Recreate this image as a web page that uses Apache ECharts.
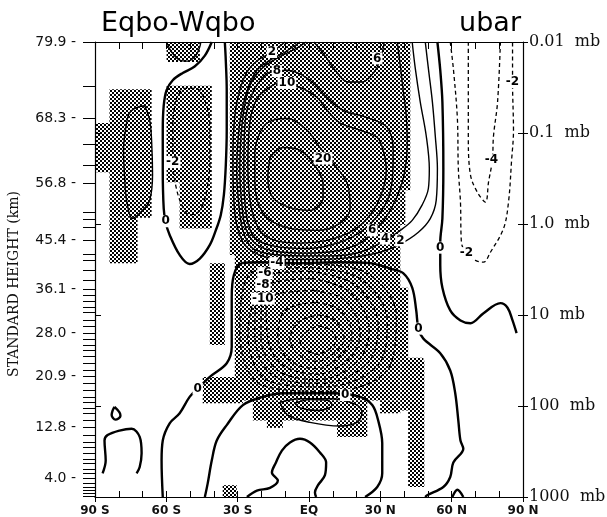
<!DOCTYPE html>
<html>
<head>
<meta charset="utf-8">
<script src="https://cdn.jsdelivr.net/npm/echarts@6/dist/echarts.min.js"></script>
<style>
  html, body { margin: 0; padding: 0; background: #fff; }
  #chart { width: 607px; height: 517px; }
</style>
</head>
<body>
<div id="chart"></div>
<script>
// Every contour is a list of [latitude (deg, south negative), log10(pressure / mb)] points.

// ---- axis ticks ----
const latTicks = [-90, -60, -30, 0, 30, 60, 90];
const latTickLabels = ['90 S', '60 S', '30 S', 'EQ', '30 N', '60 N', '90 N'];
const heightTickLevels = [-2.0, -1.16, -0.45, 0.18, 0.72, 1.20, 1.67, 2.23, 2.79];
const heightTickLabels = ['79.9', '68.3', '56.8', '45.4', '36.1', '28.0', '20.9', '12.8', '4.0'];
const modelLevels = [-2.0, -1.51, -1.16, -0.88, -0.65, -0.45, -0.13, -0.05, 0.04, 0.18, 0.33, 0.40, 0.51,
  0.62, 0.72, 0.78, 0.85, 0.91, 0.97, 1.06, 1.12, 1.20, 1.27, 1.33, 1.39, 1.45, 1.53, 1.61, 1.67, 1.75,
  1.83, 1.90, 1.96, 2.03, 2.08, 2.16, 2.23, 2.32, 2.40, 2.45, 2.52, 2.58, 2.63, 2.69, 2.74, 2.79, 2.85,
  2.89, 2.93, 2.96, 2.99];
const pressureTickLevels = [-2, -1, 0, 1, 2, 3];
const pressureTickLabels = ['0.01  mb', '0.1  mb', '1.0  mb', '10  mb', '100  mb', '1000  mb'];

// ---- zero contours (bold) ----
const zeroSouthTongue = [[-40.9,-2.0],[-43.8,-1.85],[-48.1,-1.73],[-53.1,-1.66],[-57.3,-1.58],[-59.9,-1.47],
  [-61.1,-1.30],[-61.5,-1.03],[-61.5,-0.59],[-61.1,-0.17],[-60.3,-0.02],[-58.6,0.12],[-54.4,0.34],
  [-50.2,0.44],[-45.9,0.38],[-41.7,0.23],[-39.2,0.07],[-37.1,-0.10],[-35.8,-0.32],[-35.0,-0.64],
  [-34.6,-1.03],[-34.6,-1.47],[-35.0,-1.80],[-35.4,-2.0]];
const zeroNorthUpper = [[54.0,-2.0],[55.2,-1.69],[56.1,-1.34],[56.5,-0.61],[56.1,-0.06],[55.2,0.20],
  [55.2,0.45],[56.1,0.70],[59.4,0.95],[63.7,1.06],[67.9,1.09],[73.4,0.98],[80.5,0.87],[83.5,0.92],
  [85.6,1.06],[87.3,1.20]];
const zeroWesterlyShell = [[-61.5,3.0],[-62.0,2.60],[-61.5,2.38],[-58.6,2.19],[-54.4,2.08],[-50.2,1.90],
  [-46.8,1.81],[-41.7,1.68],[-34.6,1.53],[-32.5,1.35],[-32.5,0.81],[-31.6,0.56],[-28.2,0.43],
  [-20.7,0.42],[-3.8,0.43],[13.1,0.42],[25.7,0.43],[34.1,0.49],[39.6,0.54],[43.4,0.70],[45.1,0.95],
  [46.0,1.15],[48.1,1.26],[55.2,1.42],[59.4,1.61],[61.5,1.86],[62.8,2.16],[63.7,2.38],[64.9,2.47],
  [60.7,2.62],[59.4,2.78],[56.5,2.89],[49.7,2.98],[48.9,3.0]];
const zeroLowerArch = [[-43.8,3.0],[-42.6,2.85],[-40.9,2.60],[-38.8,2.38],[-34.6,2.21],[-27.8,1.99],
  [-19.4,1.90],[-11.0,1.86],[10.1,1.86],[21.5,1.90],[26.6,1.99],[29.1,2.16],[30.8,2.41],[30.8,2.74],
  [28.7,2.89],[23.6,3.0]];
const zeroSurfaceCell = [[-26.1,3.0],[-21.9,2.93],[-16.4,2.90],[-13.1,2.82],[-15.6,2.73],[-13.9,2.62],
  [-11.4,2.49],[-8.0,2.40],[-3.8,2.36],[0.4,2.40],[4.6,2.51],[7.2,2.62],[6.7,2.76],[3.8,2.87],
  [2.5,2.95],[3.0,3.0]];
const zeroPolarDrop = [[-81.8,2.01],[-79.7,2.07],[-79.3,2.11],[-81.4,2.15],[-83.0,2.10],[-82.6,2.05],[-81.8,2.01]];
const zeroPolarArch = [[-86.8,2.74],[-85.5,2.60],[-86.0,2.38],[-84.7,2.32],[-79.7,2.27],[-74.6,2.25],
  [-71.2,2.34],[-70.4,2.52],[-71.2,2.67],[-72.5,2.74]];
const zeroArcticBump = [[60.3,3.0],[62.4,2.92],[64.9,3.0]];

// ---- positive contours ----
const posSouthLoop = [[-69.1,-1.30],[-67.0,-1.14],[-66.2,-0.92],[-65.8,-0.54],[-67.0,-0.26],[-70.0,-0.15],
  [-74.2,-0.06],[-76.7,-0.26],[-77.6,-0.54],[-78.0,-0.81],[-77.1,-1.05],[-75.5,-1.22],[-72.5,-1.28],[-69.1,-1.30]];
const pos2 = [[-10.1,-2.0],[-15.6,-1.89],[-21.5,-1.80],[-26.1,-1.67],[-29.1,-1.47],[-31.2,-1.19],
  [-32.0,-0.70],[-31.6,-0.26],[-30.4,0.01],[-27.0,0.23],[-19.8,0.35],[-8.0,0.39],[4.6,0.39],[17.3,0.37],
  [29.9,0.31],[38.4,0.22],[46.0,0.09],[51.0,-0.06],[53.5,-0.26],[54.0,-0.61],[53.1,-0.97],[51.9,-1.34],
  [50.2,-1.71],[48.9,-2.0]];
const pos4 = [[-3.8,-2.0],[-10.1,-1.89],[-16.4,-1.80],[-21.9,-1.69],[-25.3,-1.52],[-27.8,-1.30],
  [-29.5,-1.03],[-30.4,-0.59],[-29.5,-0.21],[-27.8,0.07],[-24.0,0.26],[-16.4,0.33],[-3.8,0.35],[8.9,0.35],
  [21.5,0.31],[32.0,0.18],[38.4,0.07],[43.4,-0.04],[47.6,-0.21],[50.2,-0.39],[50.6,-0.61],[49.3,-0.97],
  [46.8,-1.34],[44.7,-1.71],[43.4,-2.0]];
const pos6 = [[-1.3,-2.0],[-4.6,-1.94],[-12.2,-1.84],[-19.8,-1.71],[-24.9,-1.52],[-27.4,-1.25],
  [-28.7,-0.92],[-29.1,-0.59],[-28.2,-0.21],[-26.6,0.05],[-22.3,0.22],[-14.3,0.30],[-1.7,0.32],[11.0,0.30],
  [21.5,0.21],[26.6,0.09],[32.0,-0.06],[36.7,-0.28],[40.0,-0.54],[41.3,-0.86],[40.9,-1.19],[39.6,-1.47],
  [38.4,-1.74],[37.1,-2.0]];
const pos6Dip = [[2.1,-2.0],[6.7,-1.85],[11.0,-1.69],[16.4,-1.56],[22.3,-1.56],[27.4,-1.67],[29.9,-1.80],
  [31.2,-1.93],[31.6,-2.0]];
const pos8 = [[-17.7,-1.66],[-9.3,-1.69],[0.4,-1.58],[7.6,-1.39],[14.3,-1.25],[24.5,-1.17],[32.9,-1.06],
  [35.4,-0.81],[35.0,-0.48],[32.0,-0.21],[23.6,0.05],[13.1,0.20],[-0.8,0.27],[-15.2,0.24],[-23.2,0.14],
  [-26.6,-0.15],[-27.4,-0.59],[-27.0,-1.08],[-23.6,-1.45],[-17.7,-1.66]];
const pos10 = [[-13.5,-1.55],[-3.8,-1.50],[3.4,-1.39],[7.6,-1.25],[13.1,-1.11],[21.5,-1.03],[28.7,-0.95],
  [31.2,-0.81],[32.5,-0.59],[29.9,-0.29],[24.5,-0.06],[17.3,0.09],[7.6,0.18],[-3.8,0.21],[-14.3,0.18],
  [-20.7,0.07],[-24.5,-0.21],[-25.7,-0.64],[-24.9,-1.11],[-21.5,-1.39],[-13.5,-1.55]];
const pos20 = [[-21.9,-0.92],[-17.7,-1.11],[-9.3,-1.16],[-0.8,-1.03],[4.6,-0.84],[10.1,-0.67],[16.0,-0.45],
  [17.3,-0.18],[13.1,-0.01],[3.4,0.07],[-9.3,0.04],[-19.4,-0.12],[-22.8,-0.48],[-22.8,-0.78],[-21.9,-0.92]];
const pos30 = [[-16.4,-0.73],[-11.0,-0.84],[-3.8,-0.81],[1.7,-0.67],[5.9,-0.45],[5.9,-0.29],[0.4,-0.15],
  [-8.0,-0.18],[-15.2,-0.29],[-17.3,-0.51],[-16.4,-0.73]];
const posLowerOuter = [[-12.2,1.96],[-3.8,1.92],[8.9,1.92],[19.4,1.98],[22.3,2.07],[20.2,2.18],[13.1,2.22],
  [0.4,2.18],[-8.9,2.10],[-12.2,1.96]];
const posLowerInner = [[-5.9,1.97],[0.4,1.93],[8.0,1.94],[9.7,1.99],[3.8,2.05],[-3.8,2.02],[-5.9,1.97]];
const posSouthCap = [[-59.9,-2.0],[-57.8,-1.89],[-54.4,-1.80],[-51.0,-1.79],[-47.6,-1.85],[-45.9,-1.95],[-45.5,-2.0]];

// ---- negative contours (dashed) ----
const negSouthLoop = [[-56.1,-1.36],[-52.3,-1.49],[-47.6,-1.49],[-43.8,-1.36],[-41.7,-1.08],[-41.7,-0.70],
  [-43.0,-0.37],[-45.9,-0.15],[-50.2,-0.10],[-53.5,-0.21],[-56.1,-0.43],[-57.3,-0.70],[-57.3,-1.08],[-56.1,-1.36]];
const negNorth2 = [[59.4,-2.0],[60.7,-1.71],[62.4,-1.16],[62.8,-0.61],[63.7,-0.24],[64.1,0.20],[66.2,0.32],
  [70.0,0.40],[73.4,0.42],[76.3,0.31],[81.8,0.05],[83.9,-0.24],[85.2,-0.70],[86.0,-1.03],[85.6,-1.56],[85.6,-2.0]];
const negNorth4 = [[67.0,-2.0],[67.0,-1.52],[67.0,-0.97],[67.9,-0.54],[70.8,-0.35],[74.2,-0.24],[75.5,-0.46],
  [77.1,-0.70],[77.6,-0.97],[79.3,-1.34],[80.5,-2.0]];
const neg2 = [[0.4,0.44],[23.6,0.53],[36.7,1.00],[33.3,1.59],[8.9,1.84],[-19.8,1.77],[-29.1,1.22],[-24.0,0.53],[0.4,0.44]];
const neg4 = [[0.4,0.48],[21.5,0.60],[32.9,1.06],[29.1,1.55],[6.7,1.79],[-17.3,1.72],[-25.7,1.22],[-14.3,0.49],[0.4,0.48]];
const neg6 = [[0.4,0.52],[19.4,0.67],[29.1,1.11],[24.9,1.52],[5.5,1.75],[-15.2,1.66],[-22.8,1.22],[-18.5,0.57],[0.4,0.52]];
const neg8 = [[1.3,0.60],[17.3,0.75],[25.3,1.17],[20.7,1.50],[4.6,1.71],[-13.1,1.61],[-20.2,1.25],[-19.0,0.71],[1.3,0.60]];
const neg10 = [[2.1,0.73],[15.2,0.84],[21.5,1.20],[17.3,1.47],[3.8,1.65],[-11.0,1.55],[-17.3,1.26],[-18.1,0.84],[2.1,0.73]];
const neg12 = [[3.0,0.86],[13.1,0.95],[18.1,1.22],[13.9,1.43],[3.4,1.59],[-8.0,1.50],[-13.1,1.26],[-10.1,0.95],[3.0,0.86]];
const neg14 = [[3.8,1.00],[11.0,1.06],[14.8,1.26],[11.4,1.40],[3.4,1.51],[-4.6,1.43],[-8.0,1.27],[-4.6,1.08],[3.8,1.00]];
const neg16 = [[3.8,1.12],[8.9,1.16],[11.4,1.28],[8.9,1.37],[3.4,1.43],[-1.7,1.37],[-3.8,1.28],[-0.8,1.18],[3.8,1.12]];

// ---- stippled (significant) boxes: [lat1, lat2, logp1, logp2] ----
const stippleBoxes = [
  [-83.9,-66.2,-1.48,-0.07], [-90,-66.2,-1.11,-0.57], [-83.9,-72.1,-0.07,0.43],
  [-59.9,-40.9,-1.52,-0.46], [-54.4,-40.9,-0.46,0.05], [-59.9,-45.9,-2.0,-1.78],
  [-33.3,38.4,-2.0,0.34], [38.4,42.6,-2.0,-0.37], [38.4,40.5,-0.37,0.01],
  [-31.2,38.4,0.34,1.94], [-41.7,-35.4,0.43,1.33], [-44.7,-27.8,1.68,1.97],
  [-23.6,24.5,1.94,2.16], [-17.7,-11.0,2.08,2.24], [11.8,24.5,2.16,2.34],
  [29.9,38.4,1.94,2.08], [34.1,41.7,0.70,1.50], [38.4,48.1,1.47,2.05],
  [41.7,48.5,1.50,2.89], [-36.3,-30.4,2.87,3.0]
];

// ---- contour labels: [lat, logp, text] ----
const contourLabels = [
  [-60.3,-0.03,'0'], [-57.3,-0.68,'-2'], [-15.6,-1.89,'2'], [-13.5,-1.68,'8'], [-9.3,-1.55,'10'],
  [5.9,-0.72,'20'], [28.7,-1.82,'6'], [26.6,0.07,'6'], [32.0,0.16,'4'], [38.4,0.18,'2'],
  [55.2,0.26,'0'], [66.2,0.32,'-2'], [85.6,-1.56,'-2'], [76.7,-0.70,'-4'],
  [-13.5,0.43,'-4'], [-18.5,0.54,'-6'], [-19.4,0.67,'-8'], [-19.4,0.82,'-10'],
  [-46.8,1.81,'0'], [46.0,1.15,'0'], [15.2,1.88,'0']
];

// ---------------------------------------------------------------
const chart = echarts.init(document.getElementById('chart'), null, { renderer: 'canvas' });

// checkerboard halftone tile for the stippled areas
const dots = document.createElement('canvas');
dots.width = 4; dots.height = 4;
const dctx = dots.getContext('2d');
dctx.fillStyle = '#000';
dctx.fillRect(0, 0, 2, 2);
dctx.fillRect(2, 2, 2, 2);
const stippleFill = { image: dots, repeat: 'repeat' };

const zeroStyle = { color: '#000', width: 2.4, type: 'solid' };
const posStyle = { color: '#000', width: 1.4, type: 'solid' };
const negStyle = { color: '#000', width: 1.3, type: [4, 3] };

const contourSet = [
  [zeroSouthTongue, zeroStyle], [zeroNorthUpper, zeroStyle], [zeroWesterlyShell, zeroStyle],
  [zeroLowerArch, zeroStyle], [zeroSurfaceCell, zeroStyle], [zeroPolarDrop, zeroStyle],
  [zeroPolarArch, zeroStyle], [zeroArcticBump, zeroStyle],
  [posSouthLoop, posStyle], [pos2, posStyle], [pos4, posStyle], [pos6, posStyle], [pos6Dip, posStyle],
  [pos8, posStyle], [pos10, posStyle], [pos20, posStyle], [pos30, posStyle],
  [posLowerOuter, posStyle], [posLowerInner, posStyle], [posSouthCap, posStyle],
  [negSouthLoop, negStyle], [negNorth2, negStyle], [negNorth4, negStyle],
  [neg2, negStyle], [neg4, negStyle], [neg6, negStyle], [neg8, negStyle],
  [neg10, negStyle], [neg12, negStyle], [neg14, negStyle], [neg16, negStyle]
];

const lineSeries = contourSet.map(([pts, style]) => ({
  type: 'line',
  xAxisIndex: 0, yAxisIndex: 0,
  data: pts,
  showSymbol: false, symbol: 'none',
  smooth: 0.35,
  lineStyle: style,
  silent: true, z: 3, animation: false
}));

const stippleSeries = {
  type: 'custom',
  xAxisIndex: 0, yAxisIndex: 0,
  data: stippleBoxes,
  encode: { x: [0, 1], y: [2, 3] },
  clip: true, silent: true, z: 1, animation: false,
  renderItem: (params, api) => {
    const a = api.coord([api.value(0), api.value(2)]);
    const b = api.coord([api.value(1), api.value(3)]);
    return {
      type: 'rect',
      shape: { x: Math.min(a[0], b[0]), y: Math.min(a[1], b[1]),
               width: Math.abs(b[0] - a[0]), height: Math.abs(b[1] - a[1]) },
      style: { fill: stippleFill }
    };
  }
};

const labelSeries = {
  type: 'custom',
  xAxisIndex: 0, yAxisIndex: 0,
  data: contourLabels.map(d => [d[0], d[1]]),
  silent: true, z: 5, animation: false,
  renderItem: (params, api) => {
    const p = api.coord([api.value(0), api.value(1)]);
    return {
      type: 'text',
      x: p[0], y: p[1],
      style: {
        text: contourLabels[params.dataIndex][2],
        font: 'bold 12px "DejaVu Sans"',
        fill: '#000',
        align: 'center', verticalAlign: 'middle',
        backgroundColor: '#fff', padding: [0, 1]
      }
    };
  }
};

const blank = { show: false };

chart.setOption({
  animation: false,
  backgroundColor: '#fff',
  grid: { left: 95, right: 84, top: 42, bottom: 20, containLabel: false, outerBoundsMode: 'none' },
  xAxis: [
    { type: 'value', position: 'bottom', min: -90, max: 90, interval: 30,
      axisLine: { show: true, onZero: false, lineStyle: { color: '#000', width: 1.2 } },
      axisTick: { show: true, inside: false, length: 5, lineStyle: { color: '#000' } },
      axisLabel: { show: true, margin: 8, color: '#111', fontFamily: 'DejaVu Sans', fontSize: 12,
        fontWeight: 'bold', hideOverlap: false,
        formatter: v => latTickLabels[latTicks.indexOf(Math.round(v))] },
      splitLine: blank },
    { type: 'value', position: 'bottom', min: -90, max: 90, interval: 10,
      axisLine: { show: false, onZero: false },
      axisTick: { show: true, inside: true, length: 6, lineStyle: { color: '#000' } },
      axisLabel: blank, splitLine: blank },
    { type: 'value', position: 'top', min: -90, max: 90, interval: 10,
      axisLine: { show: true, onZero: false, lineStyle: { color: '#000', width: 1.2 } },
      axisTick: { show: true, inside: true, length: 7, lineStyle: { color: '#000' } },
      axisLabel: blank, splitLine: blank }
  ],
  yAxis: [
    { type: 'value', position: 'left', min: -2, max: 3, inverse: true,
      axisLine: { show: true, onZero: false, lineStyle: { color: '#000', width: 1.2 } },
      axisTick: { show: true, inside: false, length: 12, customValues: modelLevels, lineStyle: { color: '#000' } },
      axisLabel: { show: true, margin: 19, color: '#111', fontFamily: 'DejaVu Sans', fontSize: 14,
        customValues: heightTickLevels, hideOverlap: false,
        formatter: v => {
          let k = 0;
          heightTickLevels.forEach((h, i) => { if (Math.abs(h - v) < Math.abs(heightTickLevels[k] - v)) k = i; });
          return heightTickLabels[k] + ' -';
        } },
      splitLine: blank },
    { type: 'value', position: 'left', min: -2, max: 3, inverse: true, interval: 1,
      axisLine: { show: false, onZero: false },
      axisTick: { show: true, inside: true, length: 6, lineStyle: { color: '#000' } },
      axisLabel: blank, splitLine: blank },
    { type: 'value', position: 'right', min: -2, max: 3, inverse: true, interval: 1,
      axisLine: { show: true, onZero: false, lineStyle: { color: '#000', width: 1.2 } },
      axisTick: { show: true, inside: false, length: 5, lineStyle: { color: '#000' } },
      axisLabel: { show: true, margin: 6, color: '#111', fontFamily: 'DejaVu Serif', fontSize: 16,
        hideOverlap: false,
        formatter: v => pressureTickLabels[pressureTickLevels.indexOf(Math.round(v))] },
      splitLine: blank },
    { type: 'value', position: 'right', min: -2, max: 3, inverse: true, interval: 1,
      axisLine: { show: false, onZero: false },
      axisTick: { show: true, inside: true, length: 5, lineStyle: { color: '#000' } },
      axisLabel: blank, splitLine: blank }
  ],
  graphic: [
    { type: 'text', left: 101, top: 10, silent: true,
      style: { text: 'Eqbo-Wqbo', font: '27px "DejaVu Sans"', fill: '#000' } },
    { type: 'text', right: 86, top: 10, silent: true,
      style: { text: 'ubar', font: '27px "DejaVu Sans"', fill: '#000' } },
    { type: 'text', x: 14, y: 284, rotation: Math.PI / 2, silent: true,
      style: { text: 'STANDARD HEIGHT (km)', font: '14px "DejaVu Serif"', fill: '#111',
               align: 'center', verticalAlign: 'middle' } }
  ],
  series: [stippleSeries, ...lineSeries, labelSeries]
});
</script>
</body>
</html>
